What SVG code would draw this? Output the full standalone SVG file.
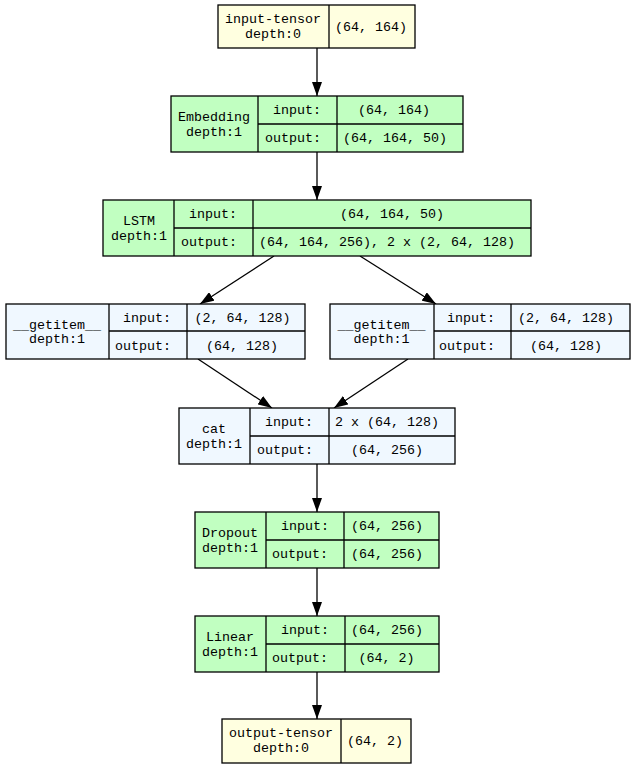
<svg xmlns="http://www.w3.org/2000/svg" width="635" height="768" viewBox="0 0 635 768">
<style>
rect{stroke:#000;stroke-width:1.3}
line.d{stroke:#000;stroke-width:1.3}
.y{fill:#ffffe0}
.g{fill:#c1ffc1}
.b{fill:#f0f8ff}
text{font-family:"Liberation Mono","DejaVu Sans Mono",monospace;font-size:13.33px;fill:#000;text-anchor:middle}
.e line{stroke:#000;stroke-width:1.3}
</style>
<defs>
<marker id="ah" viewBox="0 0 14 10" refX="14" refY="5" markerWidth="14" markerHeight="10" markerUnits="userSpaceOnUse" orient="auto">
<path d="M0,0 L14,5 L0,10 Z" fill="#000"/>
</marker>
</defs>
<g id="edges" class="e">
<line x1="317" y1="48" x2="317" y2="96" marker-end="url(#ah)"/>
<line x1="317" y1="152" x2="317" y2="200" marker-end="url(#ah)"/>
<line x1="274" y1="256" x2="200" y2="304" marker-end="url(#ah)"/>
<line x1="360" y1="256" x2="436" y2="304" marker-end="url(#ah)"/>
<line x1="198" y1="359" x2="272" y2="408" marker-end="url(#ah)"/>
<line x1="408" y1="359" x2="334" y2="408" marker-end="url(#ah)"/>
<line x1="317" y1="464" x2="317" y2="512" marker-end="url(#ah)"/>
<line x1="317" y1="568" x2="317" y2="616" marker-end="url(#ah)"/>
<line x1="317" y1="672" x2="317" y2="719" marker-end="url(#ah)"/>
</g>
<g id="input-tensor">
<rect class="y" x="218" y="5" width="197" height="43"/>
<line class="d" x1="329" y1="5" x2="329" y2="48"/>
<text x="273" y="23">input-tensor</text>
<text x="273" y="37.5">depth:0</text>
<text x="371" y="30.5">(64, 164)</text>
</g>
<g id="embedding">
<rect class="g" x="171" y="96" width="292" height="56"/>
<line class="d" x1="258" y1="96" x2="258" y2="152"/>
<line class="d" x1="337" y1="96" x2="337" y2="152"/>
<line class="d" x1="258" y1="124" x2="463" y2="124"/>
<text x="214" y="121">Embedding</text>
<text x="214" y="135.5">depth:1</text>
<text x="297" y="114">input:</text>
<text x="293" y="142">output:</text>
<text x="394" y="114">(64, 164)</text>
<text x="395" y="142">(64, 164, 50)</text>
</g>
<g id="lstm">
<rect class="g" x="103" y="200" width="428" height="56"/>
<line class="d" x1="174" y1="200" x2="174" y2="256"/>
<line class="d" x1="253" y1="200" x2="253" y2="256"/>
<line class="d" x1="174" y1="228" x2="531" y2="228"/>
<text x="139" y="225">LSTM</text>
<text x="139" y="239.5">depth:1</text>
<text x="213" y="218">input:</text>
<text x="209" y="246">output:</text>
<text x="392" y="218">(64, 164, 50)</text>
<text x="387" y="246">(64, 164, 256), 2 x (2, 64, 128)</text>
</g>
<g id="getitem-1">
<rect class="b" x="6" y="304" width="299" height="55"/>
<line class="d" x1="109" y1="304" x2="109" y2="359"/>
<line class="d" x1="187" y1="304" x2="187" y2="359"/>
<line class="d" x1="109" y1="331" x2="305" y2="331"/>
<text x="57" y="328.5">__getitem__</text>
<text x="57" y="343">depth:1</text>
<text x="147" y="321.5">input:</text>
<text x="143" y="349.5">output:</text>
<text x="242.5" y="321.5">(2, 64, 128)</text>
<text x="242" y="349.5">(64, 128)</text>
</g>
<g id="getitem-2">
<rect class="b" x="330" y="304" width="300" height="55"/>
<line class="d" x1="434" y1="304" x2="434" y2="359"/>
<line class="d" x1="511" y1="304" x2="511" y2="359"/>
<line class="d" x1="434" y1="331" x2="630" y2="331"/>
<text x="381.5" y="328.5">__getitem__</text>
<text x="381.5" y="343">depth:1</text>
<text x="471" y="321.5">input:</text>
<text x="467" y="349.5">output:</text>
<text x="566" y="321.5">(2, 64, 128)</text>
<text x="566" y="349.5">(64, 128)</text>
</g>
<g id="cat">
<rect class="b" x="179" y="408" width="276" height="56"/>
<line class="d" x1="250" y1="408" x2="250" y2="464"/>
<line class="d" x1="329" y1="408" x2="329" y2="464"/>
<line class="d" x1="250" y1="436" x2="455" y2="436"/>
<text x="214" y="433">cat</text>
<text x="214" y="447.5">depth:1</text>
<text x="289" y="426">input:</text>
<text x="285" y="454">output:</text>
<text x="387" y="426">2 x (64, 128)</text>
<text x="387" y="454">(64, 256)</text>
</g>
<g id="dropout">
<rect class="g" x="195" y="512" width="244" height="56"/>
<line class="d" x1="266" y1="512" x2="266" y2="568"/>
<line class="d" x1="344" y1="512" x2="344" y2="568"/>
<line class="d" x1="266" y1="540" x2="439" y2="540"/>
<text x="230" y="537">Dropout</text>
<text x="230" y="551.5">depth:1</text>
<text x="305" y="530">input:</text>
<text x="300" y="558">output:</text>
<text x="387" y="530">(64, 256)</text>
<text x="387" y="558">(64, 256)</text>
</g>
<g id="linear">
<rect class="g" x="195" y="616" width="244" height="56"/>
<line class="d" x1="266" y1="616" x2="266" y2="672"/>
<line class="d" x1="345" y1="616" x2="345" y2="672"/>
<line class="d" x1="266" y1="644" x2="439" y2="644"/>
<text x="230" y="641">Linear</text>
<text x="230" y="655.5">depth:1</text>
<text x="305" y="634">input:</text>
<text x="300" y="662">output:</text>
<text x="387" y="634">(64, 256)</text>
<text x="386.5" y="662">(64, 2)</text>
</g>
<g id="output-tensor">
<rect class="y" x="222" y="719" width="189" height="44"/>
<line class="d" x1="341" y1="719" x2="341" y2="763"/>
<text x="281" y="737">output-tensor</text>
<text x="281" y="751.5">depth:0</text>
<text x="375" y="745">(64, 2)</text>
</g>
</svg>
